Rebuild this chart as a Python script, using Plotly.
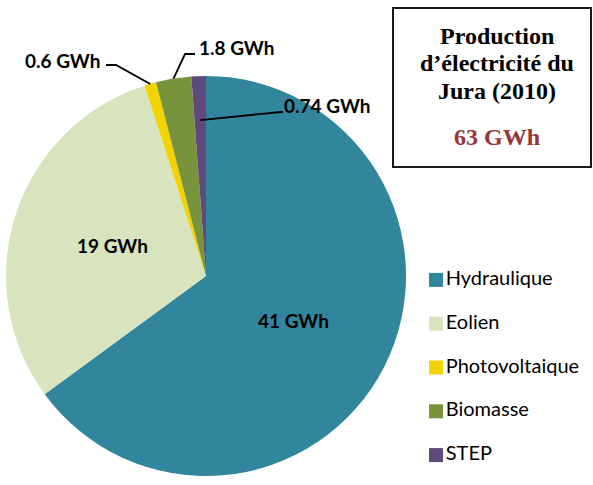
import math
import plotly.graph_objects as go

# Electricity production in the Jura, 2010 (GWh)
categories = ["Hydraulique", "Eolien", "Photovoltaique", "Biomasse", "STEP"]
values = [41, 19, 0.6, 1.8, 0.74]
colors = ["#31859C", "#D7E4BD", "#F2D300", "#77933C", "#604A7B"]
title_lines = ["Production", "d\u2019électricité du", "Jura (2010)"]
unit = "GWh"

W, H = 593, 485

# pie placement (pixels)
CX, CY, R = 206, 276, 200

def px(x, y):
    return x / W, (H - y) / H

fig = go.Figure()

fig.add_trace(go.Pie(
    labels=categories, values=values, sort=False, direction="clockwise",
    rotation=0, textinfo="none", hoverinfo="label+value",
    marker=dict(colors=colors, line=dict(width=0)),
    domain=dict(x=[(CX - R) / W, (CX + R) / W],
                y=[(H - CY - R) / H, (H - CY + R) / H]),
    showlegend=False,
))

# slice angles, clockwise from 12 o'clock
total = sum(values)
mids = []
acc = 0.0
for v in values:
    mids.append(math.radians((acc + v / 2) / total * 360))
    acc += v

def slice_px(i, frac):
    a = mids[i]
    return CX + frac * R * math.sin(a), CY - frac * R * math.cos(a)

label_font = dict(family="Lato", size=19, color="black")
annotations = []
shapes = []

# labels inside the two big slices
for i in (0, 1):
    x, y = px(*slice_px(i, 0.49))
    annotations.append(dict(x=x, y=y, xref="paper", yref="paper",
                            xanchor="center", yanchor="middle",
                            text=f"<b>{values[i]:g} {unit}</b>", showarrow=False,
                            font=label_font))

# callouts for the small slices:
# (index, anchor radius fraction, text centre, elbow, line end) in pixels
callouts = [
    (2, 1.0, (62, 60), (116, 65), (106, 65)),
    (3, 1.0, (236, 48), (185, 54), (195, 54)),
    (4, 0.78, (327, 105), (281, 112), (283, 112)),
]
for i, frac, tc, elbow, end in callouts:
    x, y = px(*tc)
    annotations.append(dict(x=x, y=y, xref="paper", yref="paper",
                            xanchor="center", yanchor="middle",
                            text=f"<b>{values[i]:g} {unit}</b>", showarrow=False,
                            font=label_font))
    pts = [px(*slice_px(i, frac)), px(*elbow), px(*end)]
    path = "M " + " L ".join(f"{a:.5f},{b:.5f}" for a, b in pts)
    shapes.append(dict(type="path", xref="paper", yref="paper", path=path,
                       line=dict(color="black", width=1.8)))

# title box
title_font = dict(family="Liberation Serif", size=24, color="black")
for k, line in enumerate(title_lines):
    x, y = px(497, 36 + 27.5 * k)
    annotations.append(dict(x=x, y=y, xref="paper", yref="paper",
                            xanchor="center", yanchor="middle",
                            text=f"<b>{line}</b>", showarrow=False, font=title_font))
x, y = px(497, 137)
annotations.append(dict(x=x, y=y, xref="paper", yref="paper",
                        xanchor="center", yanchor="middle",
                        text=f"<b>{round(total):d} {unit}</b>", showarrow=False,
                        font=dict(family="Liberation Serif", size=24, color="#953735")))

bx0, by1 = px(393, 8)
bx1, by0 = px(591, 167)
shapes.append(dict(type="rect", xref="paper", yref="paper",
                   x0=bx0, x1=bx1, y0=by0, y1=by1,
                   line=dict(color="#1a1a1a", width=2)))

# legend drawn as a marker column on a hidden axis
fig.add_trace(go.Scatter(
    x=[0] * len(categories), y=list(range(len(categories))),
    mode="markers+text", text=categories, textposition="middle right",
    textfont=dict(family="Lato", size=20, color="black"),
    marker=dict(symbol="square", size=14, color=colors),
    cliponaxis=False, hoverinfo="skip", showlegend=False,
))

fig.update_layout(
    width=W, height=H, margin=dict(l=0, r=0, t=0, b=0),
    paper_bgcolor="white", plot_bgcolor="rgba(0,0,0,0)",
    annotations=annotations,
    shapes=shapes,
    xaxis=dict(domain=[436 / W, 1], range=[0, 1], visible=False, fixedrange=True),
    yaxis=dict(domain=[(H - 477) / H, (H - 258) / H], range=[4.5, -0.5],
               visible=False, fixedrange=True),
)

fig.write_html("out.html")
